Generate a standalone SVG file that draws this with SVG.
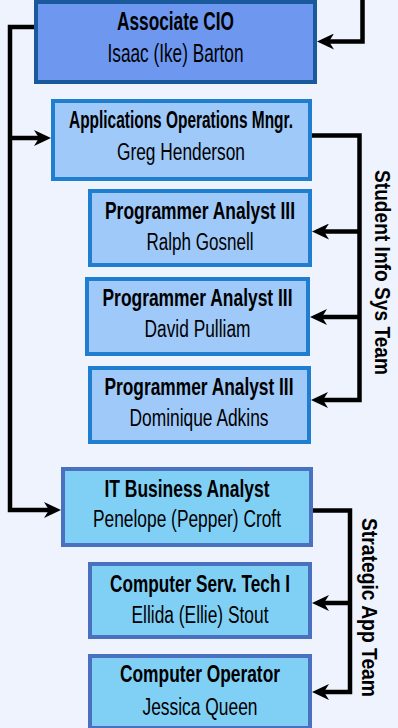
<svg xmlns="http://www.w3.org/2000/svg" width="398" height="728" viewBox="0 0 398 728">
<style>
text{font-family:"Liberation Sans",Arial,sans-serif;fill:#000;text-anchor:middle}
.t{font-weight:bold;font-size:23.5px}
.n{font-size:23.5px}
.lbl{font-weight:bold;font-size:22px;text-anchor:start}
.b1{fill:#6e98f0;stroke:#1a5a9c;stroke-width:4}
.b2{fill:#9fc9f8;stroke:#1f7ed0;stroke-width:4}
.b3{fill:#80d0f6;stroke:#4a70c0;stroke-width:4}
.c{fill:none;stroke:#000;stroke-width:4.5;stroke-linejoin:miter}
</style>
<defs>
<marker id="ah" markerUnits="userSpaceOnUse" markerWidth="17" markerHeight="16" viewBox="0 0 17 16" refX="11" refY="8" orient="auto">
<path d="M0,0 L17,8 L0,16 L5,8 z" fill="#000"/>
</marker>
</defs>
<rect width="398" height="728" fill="#eef3fd"/>
<g id="connectors">
<path class="c" d="M362.5,0 V41.5 H323" marker-end="url(#ah)"/>
<path class="c" d="M36,27 H10 V510 H55" marker-end="url(#ah)"/>
<path class="c" d="M10,138 H45" marker-end="url(#ah)"/>
<path class="c" d="M310,135.5 H359.5 V400 H317" marker-end="url(#ah)"/>
<path class="c" d="M359.5,231.5 H318" marker-end="url(#ah)"/>
<path class="c" d="M359.5,317 H316" marker-end="url(#ah)"/>
<path class="c" d="M311,510.5 H350 V692 H318" marker-end="url(#ah)"/>
<path class="c" d="M350,603 H318" marker-end="url(#ah)"/>
</g>
<g id="associate-cio">
<rect class="b1" x="36" y="2" width="279" height="80"/>
<text class="t" x="175.5" y="30" style="font-size:25px" textLength="117" lengthAdjust="spacingAndGlyphs">Associate CIO</text>
<text class="n" x="175.5" y="62" style="font-size:25px" textLength="136" lengthAdjust="spacingAndGlyphs">Isaac (Ike) Barton</text>
</g>
<g id="apps-ops-mngr">
<rect class="b2" x="53" y="101" width="257" height="78"/>
<text class="t" x="181" y="128" textLength="224" lengthAdjust="spacingAndGlyphs">Applications Operations Mngr.</text>
<text class="n" x="181" y="160" textLength="128" lengthAdjust="spacingAndGlyphs">Greg Henderson</text>
</g>
<g id="pa-gosnell">
<rect class="b2" x="90" y="191" width="220" height="74"/>
<text class="t" x="200" y="219" textLength="190" lengthAdjust="spacingAndGlyphs">Programmer Analyst III</text>
<text class="n" x="200" y="250" textLength="107" lengthAdjust="spacingAndGlyphs">Ralph Gosnell</text>
</g>
<g id="pa-pulliam">
<rect class="b2" x="87" y="279" width="221" height="75"/>
<text class="t" x="197.5" y="306" textLength="190" lengthAdjust="spacingAndGlyphs">Programmer Analyst III</text>
<text class="n" x="197.5" y="337" textLength="106" lengthAdjust="spacingAndGlyphs">David Pulliam</text>
</g>
<g id="pa-adkins">
<rect class="b2" x="90" y="368" width="219" height="74"/>
<text class="t" x="199" y="395" textLength="189" lengthAdjust="spacingAndGlyphs">Programmer Analyst III</text>
<text class="n" x="199" y="426" textLength="139" lengthAdjust="spacingAndGlyphs">Dominique Adkins</text>
</g>
<g id="it-business-analyst">
<rect class="b3" x="63" y="469" width="248" height="76"/>
<text class="t" x="187" y="497" textLength="165" lengthAdjust="spacingAndGlyphs">IT Business Analyst</text>
<text class="n" x="187" y="527" textLength="188" lengthAdjust="spacingAndGlyphs">Penelope (Pepper) Croft</text>
</g>
<g id="comp-serv-tech">
<rect class="b3" x="90" y="564" width="220" height="73"/>
<text class="t" x="200" y="592" textLength="180" lengthAdjust="spacingAndGlyphs">Computer Serv. Tech I</text>
<text class="n" x="200" y="623" textLength="137" lengthAdjust="spacingAndGlyphs">Ellida (Ellie) Stout</text>
</g>
<g id="comp-operator">
<rect class="b3" x="90" y="656" width="220" height="72"/>
<text class="t" x="200" y="682" textLength="160" lengthAdjust="spacingAndGlyphs">Computer Operator</text>
<text class="n" x="200" y="715" textLength="115" lengthAdjust="spacingAndGlyphs">Jessica Queen</text>
</g>
<g id="team-labels">
<text class="lbl" transform="translate(375,170) rotate(90)" textLength="205" lengthAdjust="spacingAndGlyphs">Student Info Sys Team</text>
<text class="lbl" transform="translate(362,518) rotate(90)" textLength="179" lengthAdjust="spacingAndGlyphs">Strategic App Team</text>
</g>
</svg>
